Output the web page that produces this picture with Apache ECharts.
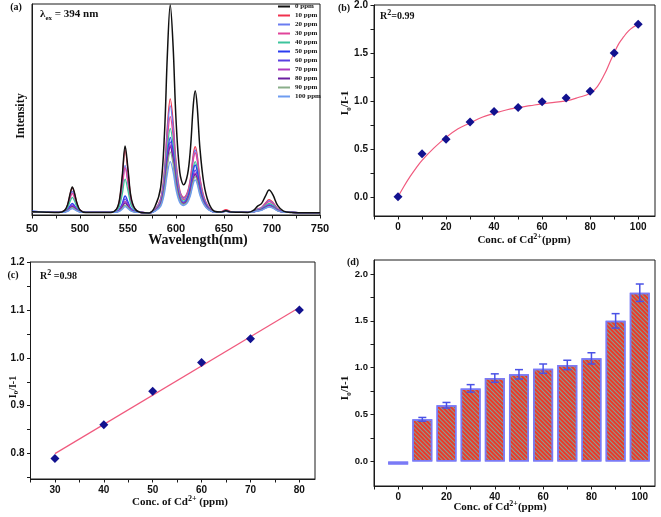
<!DOCTYPE html>
<html>
<head>
<meta charset="utf-8">
<script src="https://cdn.jsdelivr.net/npm/echarts@6/dist/echarts.min.js"></script>
<style>html,body{margin:0;padding:0;background:#fff}#c{width:661px;height:517px}</style>
</head>
<body>
<div id="c"></div>
<script>
// ---------- Panel (a): emission spectra ----------
const wavelengths = [450, 465, 478, 484, 487, 490, 492, 494, 497, 500, 506, 520, 532, 538, 541, 544, 547, 550, 553, 557, 563, 572, 578, 584, 588, 591, 594, 597, 600, 604, 608, 612, 615, 618, 620, 622, 625, 629, 634, 640, 647, 652, 657, 665, 675, 681, 685, 689, 693, 697, 701, 706, 712, 720, 735, 750];
const spectrumNames = ['0 ppm','10 ppm','20 ppm','30 ppm','40 ppm','50 ppm','60 ppm','70 ppm','80 ppm','90 ppm','100 ppm'];
const spectrumColors = ['#111111','#f0324e','#6a7cf0','#e0449a','#3cc49c','#2a3cf0','#5a40e0','#b03cc0','#6a1fa0','#8aae8a','#6e9cf0'];
const ppm0   = [1.5,1.3, 1.2,2.2,4.8,10.6,13.3,10.9,5.4,2.4,1.2, 1.2, 1.2,2.8,6.9,18.5,32.7,21.7,8.8,3.1,1.2, 1.0, 3.9,13.0,38.6,75.9,99.5,79.8,45.4,20.1,14.3,19.1,31.1,52.0,58.9,52.0,31.2,15.0,5.8,1.8, 1.4,2.0,1.4, 1.3, 1.2,2.3,4.2,5.4,8.8,11.8,9.5,4.4,1.8,1.2, 1.1,1.1];
const ppm10  = [1.5,1.3, 1.2,2.1,4.7,10.4,13.0,10.6,5.3,2.4,1.2, 1.2, 1.2,2.7,6.6,17.6,31.0,20.6,8.4,3.0,1.2, 1.0, 2.6,7.7,21.6,42.1,55.0,44.2,25.4,11.5,8.3,10.9,17.3,28.7,32.4,28.7,17.4,8.7,3.7,1.5, 1.6,2.5,1.6, 1.3, 1.2,1.8,2.9,3.6,5.6,7.3,6.0,3.0,1.6,1.2, 1.1,1.1];
const ppm20  = [1.6,1.3, 1.2,2.0,4.2,9.0,11.2,9.2,4.7,2.2,1.2, 1.2, 1.2,2.3,5.2,13.5,23.5,15.7,6.6,2.5,1.2, 1.0, 2.5,7.3,20.4,39.6,51.7,41.6,23.9,10.9,7.9,10.4,16.5,27.2,30.8,27.2,16.6,8.3,3.6,1.5, 1.5,2.1,1.5, 1.3, 1.2,1.8,2.8,3.4,5.2,6.8,5.6,2.9,1.5,1.2, 1.1,1.1];
const ppm30  = [1.5,1.3, 1.2,1.9,3.9,8.3,10.3,8.5,4.4,2.1,1.2, 1.2, 1.2,2.3,5.0,12.9,22.5,15.0,6.3,2.5,1.2, 1.0, 2.4,6.6,18.5,35.7,46.6,37.5,21.6,10.0,7.3,10.0,15.9,26.1,29.5,26.1,15.9,8.0,3.5,1.5, 1.5,2.1,1.5, 1.3, 1.2,1.7,2.6,3.2,4.9,6.3,5.2,2.7,1.5,1.2, 1.1,1.1];
const ppm40  = [1.5,1.3, 1.2,1.8,3.4,6.8,8.4,7.0,3.7,1.9,1.2, 1.2, 1.2,2.0,4.0,9.9,17.0,11.5,5.0,2.1,1.2, 1.0, 2.2,6.0,16.4,31.5,41.1,33.1,19.2,8.9,6.6,8.7,13.7,22.4,25.3,22.4,13.7,7.0,3.1,1.4, 1.4,2.0,1.4, 1.3, 1.2,1.6,2.4,2.9,4.3,5.5,4.6,2.5,1.5,1.2, 1.1,1.1];
const ppm50  = [1.8,1.3, 1.2,1.5,2.5,4.6,5.5,4.6,2.7,1.6,1.2, 1.2, 1.2,1.6,2.6,5.5,9.0,6.3,3.1,1.7,1.2, 1.0, 2.1,5.5,14.7,28.3,36.8,29.7,17.2,8.1,6.0,8.2,12.9,21.0,23.7,21.0,12.9,6.6,3.0,1.4, 1.4,1.9,1.4, 1.3, 1.2,1.6,2.2,2.6,3.8,4.8,4.0,2.3,1.4,1.2, 1.1,1.1];
const ppm60  = [1.5,1.3, 1.2,1.5,2.3,4.0,4.8,4.1,2.5,1.6,1.2, 1.2, 1.2,1.5,2.4,4.7,7.6,5.4,2.7,1.6,1.2, 1.0, 2.0,5.2,13.9,26.7,34.7,28.0,16.3,7.6,5.7,7.4,11.6,18.9,21.3,18.9,11.7,6.0,2.8,1.4, 1.4,1.9,1.4, 1.3, 1.2,1.5,2.1,2.5,3.6,4.5,3.8,2.2,1.4,1.2, 1.1,1.1];
const ppm70  = [1.5,1.3, 1.2,1.4,2.1,3.6,4.3,3.7,2.3,1.5,1.2, 1.2, 1.2,1.5,2.2,4.1,6.5,4.6,2.5,1.5,1.2, 1.0, 2.0,5.0,13.4,25.5,33.2,26.8,15.6,7.4,5.5,7.0,10.8,17.6,19.8,17.6,10.9,5.7,2.7,1.4, 1.4,1.8,1.4, 1.3, 1.2,1.5,2.1,2.4,3.4,4.3,3.6,2.1,1.4,1.2, 1.1,1.1];
const ppm80  = [1.5,1.3, 1.2,1.4,2.0,3.4,4.0,3.4,2.2,1.5,1.2, 1.2, 1.2,1.4,2.0,3.7,5.7,4.1,2.3,1.5,1.2, 1.0, 1.9,4.9,13.1,24.9,32.4,26.2,15.2,7.2,5.3,6.8,10.6,17.1,19.3,17.1,10.6,5.5,2.6,1.4, 1.4,1.8,1.4, 1.3, 1.2,1.5,2.0,2.4,3.4,4.2,3.5,2.1,1.4,1.2, 1.1,1.1];
const ppm90  = [1.5,1.3, 1.2,1.4,1.9,3.0,3.5,3.0,2.0,1.4,1.2, 1.2, 1.2,1.4,1.8,3.1,4.7,3.5,2.0,1.4,1.2, 1.0, 1.9,4.6,12.1,23.0,29.9,24.2,14.1,6.7,5.0,6.5,10.0,16.2,18.2,16.2,10.0,5.3,2.6,1.4, 1.4,1.8,1.4, 1.3, 1.2,1.5,2.0,2.3,3.2,4.0,3.4,2.0,1.4,1.2, 1.1,1.1];
const ppm100 = [1.7,1.3, 1.2,1.3,1.7,2.6,3.0,2.6,1.8,1.4,1.2, 1.2, 1.2,1.3,1.7,2.7,4.0,3.0,1.9,1.4,1.2, 1.0, 1.7,4.1,10.4,19.5,25.3,20.5,12.0,5.8,4.5,5.9,9.1,14.8,16.6,14.8,9.2,4.9,2.4,1.4, 1.3,1.7,1.3, 1.3, 1.2,1.5,1.9,2.2,3.1,3.8,3.2,1.9,1.4,1.2, 1.1,1.1];
const spectra = [ppm0, ppm10, ppm20, ppm30, ppm40, ppm50, ppm60, ppm70, ppm80, ppm90, ppm100];
const wlTickValues = [450, 500, 550, 600, 650, 700, 750];
const wlTickLabels = ['50', '500', '550', '600', '650', '700', '750'];
const wlTickMarks = [450, 475, 500, 525, 550, 575, 600, 625, 650, 675, 700, 725, 750];

// ---------- Panel (b): Stern-Volmer points and fit ----------
const concB = [0, 10, 20, 30, 40, 50, 60, 70, 80, 90, 100];
const ratioB = [0.0, 0.45, 0.60, 0.78, 0.89, 0.93, 0.99, 1.03, 1.10, 1.50, 1.80];
const fitBX = [0, 2.5, 5, 7.5, 10, 15, 20, 25, 30, 35, 40, 45, 50, 55, 60, 65, 70, 75, 80, 83, 86, 88, 90, 92, 94, 96, 98, 100];
const fitBY = [0.0, 0.11, 0.21, 0.30, 0.38, 0.51, 0.62, 0.71, 0.77, 0.83, 0.87, 0.905, 0.93, 0.95, 0.97, 0.985, 1.0, 1.035, 1.08, 1.15, 1.28, 1.39, 1.50, 1.60, 1.67, 1.73, 1.77, 1.80];
const bXLabels = [0, 20, 40, 60, 80, 100];
const bXTicks = [-10, 0, 10, 20, 30, 40, 50, 60, 70, 80, 90, 100];
const bYLabels = [0, 0.5, 1.0, 1.5, 2.0];
const bYTicks = [0, 0.25, 0.5, 0.75, 1.0, 1.25, 1.5, 1.75, 2.0];

// ---------- Panel (c): linear range ----------
const concC = [30, 40, 50, 60, 70, 80];
const ratioC = [0.79, 0.86, 0.93, 0.99, 1.04, 1.10];
const fitCX = [30, 80];
const fitCY = [0.80, 1.105];
const cXLabels = [30, 40, 50, 60, 70, 80];
const cXTicks = [25, 30, 35, 40, 45, 50, 55, 60, 65, 70, 75, 80];
const cYLabels = [0.8, 0.9, 1.0, 1.1, 1.2];
const cYTicks = [0.75, 0.8, 0.85, 0.9, 0.95, 1.0, 1.05, 1.1, 1.15, 1.2];

// ---------- Panel (d): bars with error ----------
const concD = [0, 10, 20, 30, 40, 50, 60, 70, 80, 90, 100];
const ratioD = [0.0, 0.45, 0.60, 0.78, 0.89, 0.93, 0.99, 1.03, 1.10, 1.50, 1.80];
const errD = [0.0, 0.02, 0.03, 0.04, 0.045, 0.05, 0.05, 0.05, 0.06, 0.077, 0.093];
const dXLabels = [0, 20, 40, 60, 80, 100];
const dXTicks = [-10, 0, 10, 20, 30, 40, 50, 60, 70, 80, 90, 100];
const dYLabels = [0, 0.5, 1.0, 1.5, 2.0];
const dYTicks = [0, 0.25, 0.5, 0.75, 1.0, 1.25, 1.5, 1.75, 2.0];

const SANS = 'Liberation Sans';
const SERIF = 'Liberation Serif';
const AX = '#1a1a1a';

function xAx(grid, min, max, labels, ticks, fmt, fs, margin) {
  return {
    gridIndex: grid, type: 'value', min: min, max: max,
    axisLine: { show: true, onZero: false, lineStyle: { color: AX, width: 1 } },
    axisTick: { show: true, customValues: ticks, length: 3.5, lineStyle: { color: AX } },
    axisLabel: { customValues: labels, formatter: fmt, fontFamily: SANS, fontWeight: 'bold', fontSize: fs, color: '#111', margin: margin },
    splitLine: { show: false }
  };
}
function yAx(grid, min, max, labels, ticks, fmt, fs, margin) {
  return {
    gridIndex: grid, type: 'value', min: min, max: max,
    axisLine: { show: true, onZero: false, lineStyle: { color: AX, width: 1 } },
    axisTick: { show: ticks !== null, customValues: ticks || undefined, length: 3.5, lineStyle: { color: AX } },
    axisLabel: { show: labels !== null, customValues: labels || undefined, formatter: fmt, fontFamily: SANS, fontWeight: 'bold', fontSize: fs, color: '#111', margin: margin },
    splitLine: { show: false }
  };
}
const fix1 = v => Number(v).toFixed(1);
const plain = v => String(v);

const gridBox = { show: true, borderColor: AX, borderWidth: 1, backgroundColor: 'transparent' };

const series = [];
spectra.forEach((arr, i) => {
  series.push({
    name: spectrumNames[i], type: 'line', xAxisIndex: 0, yAxisIndex: 0,
    data: wavelengths.map((w, k) => [w, arr[k]]),
    showSymbol: false, smooth: 0.35,
    lineStyle: { color: spectrumColors[i], width: i === 0 ? 1.5 : 1.3 },
    itemStyle: { color: spectrumColors[i] },
    z: i === 0 ? 3 : 2
  });
});
series.push({
  type: 'line', xAxisIndex: 1, yAxisIndex: 1, data: fitBX.map((x, k) => [x, fitBY[k]]),
  showSymbol: false, smooth: 0.4, lineStyle: { color: '#f05a7e', width: 1.2 }, z: 2
});
series.push({
  type: 'scatter', xAxisIndex: 1, yAxisIndex: 1, data: concB.map((x, k) => [x, ratioB[k]]),
  symbol: 'diamond', symbolSize: 9, itemStyle: { color: '#12128f', opacity: 1 }, z: 3
});
series.push({
  type: 'line', xAxisIndex: 2, yAxisIndex: 2, data: fitCX.map((x, k) => [x, fitCY[k]]),
  showSymbol: false, lineStyle: { color: '#f05a7e', width: 1.2 }, z: 2
});
series.push({
  type: 'scatter', xAxisIndex: 2, yAxisIndex: 2, data: concC.map((x, k) => [x, ratioC[k]]),
  symbol: 'diamond', symbolSize: 9, itemStyle: { color: '#12128f', opacity: 1 }, z: 3
});
series.push({
  type: 'bar', xAxisIndex: 3, yAxisIndex: 3, data: concD.map((x, k) => [x, ratioD[k]]),
  barWidth: 20, barMinHeight: 3,
  itemStyle: {
    color: '#ea3a28', borderColor: '#7a7af6', borderWidth: 1.5,
    decal: { symbol: 'rect', symbolSize: 1, color: 'rgba(120,175,170,0.85)', dashArrayX: [1, 0], dashArrayY: [1, 2], rotation: Math.PI / 4 }
  },
  z: 2
});
series.push({
  type: 'custom', xAxisIndex: 3, yAxisIndex: 3, data: concD.map((x, k) => [x, ratioD[k], errD[k]]),
  renderItem: function (params, api) {
    const x = api.value(0), y = api.value(1), e = api.value(2);
    if (e <= 0) return null;
    const t = api.coord([x, y + e]);
    const b = api.coord([x, y - e]);
    const w = 4;
    const st = { stroke: '#4a52e6', lineWidth: 1.5 };
    return { type: 'group', children: [
      { type: 'line', shape: { x1: t[0], y1: t[1], x2: b[0], y2: b[1] }, style: st },
      { type: 'line', shape: { x1: t[0] - w, y1: t[1], x2: t[0] + w, y2: t[1] }, style: st },
      { type: 'line', shape: { x1: b[0] - w, y1: b[1], x2: b[0] + w, y2: b[1] }, style: st }
    ] };
  },
  z: 4
});

function txt(x, y, text, fs, opts) {
  opts = opts || {};
  const el = {
    type: 'text', x: x, y: y, rotation: opts.rot || 0, z: 100,
    style: {
      text: text, fontFamily: SERIF, fontWeight: 'bold', fontSize: fs, fill: '#111',
      align: opts.align || 'center', verticalAlign: 'middle'
    }
  };
  if (opts.rich) el.style.rich = opts.rich;
  return el;
}
function richSet(fs) {
  return {
    n: { fontFamily: SERIF, fontWeight: 'bold', fontSize: fs, lineHeight: fs + 4, fill: '#111' },
    p: { fontFamily: SERIF, fontWeight: 'bold', fontSize: Math.round(fs * 0.75), lineHeight: Math.round(fs * 0.75), verticalAlign: 'top', fill: '#111' },
    s: { fontFamily: SERIF, fontWeight: 'bold', fontSize: Math.round(fs * 0.65), lineHeight: Math.round(fs * 0.7), verticalAlign: 'bottom', fill: '#111' }
  };
}
const R10 = richSet(10), R11 = richSet(11);
const graphics = [
  txt(16, 7, '(a)', 10),
  txt(40, 14, '{n|λ}{s|ex}{n| = 394 nm}', 11, { align: 'left', rich: richSet(11) }),
  txt(21, 116, 'Intensity', 12, { rot: Math.PI / 2 }),
  txt(198, 240, 'Wavelength(nm)', 14),
  txt(344, 8, '(b)', 10),
  txt(380, 16, '{n|R}{p|2}{n|=0.99}', 10, { align: 'left', rich: R10 }),
  txt(524, 240, '{n|Conc. of Cd}{p|2+}{n|(ppm)}', 11, { rich: R11 }),
  txt(345, 103, '{n|I}{s|0}{n|/I-1}', 11, { rot: Math.PI / 2, rich: R11 }),
  txt(13, 275, '(c)', 10),
  txt(40, 276, '{n|R}{p|2}{n| =0.98}', 10, { align: 'left', rich: R10 }),
  txt(180, 502, '{n|Conc. of Cd}{p|2+}{n| (ppm)}', 11, { rich: R11 }),
  txt(13, 387, '{n|I}{s|0}{n|/I-1}', 10, { rot: Math.PI / 2, rich: R10 }),
  txt(353, 262, '(d)', 10),
  txt(500, 507, '{n|Conc. of Cd}{p|2+}{n|(ppm)}', 11, { rich: R11 }),
  txt(345, 388, '{n|I}{s|0}{n|/I-1}', 11, { rot: Math.PI / 2, rich: R11 })
];

const option = {
  animation: false,
  backgroundColor: '#ffffff',
  legend: {
    data: spectrumNames, orient: 'vertical', left: 278, top: 2, padding: 0,
    itemWidth: 12, itemHeight: 2, itemGap: 0, icon: 'rect',
    textStyle: { fontFamily: SERIF, fontWeight: 'bold', fontSize: 7, lineHeight: 9, color: '#111' }
  },
  grid: [
    Object.assign({ left: 32, top: 4, width: 288, height: 211 }, gridBox),
    Object.assign({ left: 374, top: 4, width: 281, height: 212 }, gridBox),
    Object.assign({ left: 30.5, top: 262, width: 284.5, height: 217 }, gridBox),
    Object.assign({ left: 374, top: 260, width: 281, height: 226 }, gridBox)
  ],
  xAxis: [
    xAx(0, 450, 750, wlTickValues, wlTickMarks, v => wlTickLabels[wlTickValues.indexOf(v)], 11, 8),
    xAx(1, -10, 107, bXLabels, bXTicks, plain, 10, 6),
    xAx(2, 25, 83.2, cXLabels, cXTicks, plain, 10, 6),
    xAx(3, -10, 106.3, dXLabels, dXTicks, plain, 10, 6)
  ],
  yAxis: [
    yAx(0, 0, 100, null, null, plain, 10, 6),
    yAx(1, -0.2, 2.0, bYLabels, bYTicks, fix1, 10, 6),
    yAx(2, 0.747, 1.2, cYLabels, cYTicks, fix1, 10, 6),
    yAx(3, -0.261, 2.149, dYLabels, dYTicks, fix1, 9.5, 6)
  ],
  series: series,
  graphic: graphics
};

const chart = echarts.init(document.getElementById('c'), null, { renderer: 'canvas' });
chart.setOption(option);
</script>
</body>
</html>
